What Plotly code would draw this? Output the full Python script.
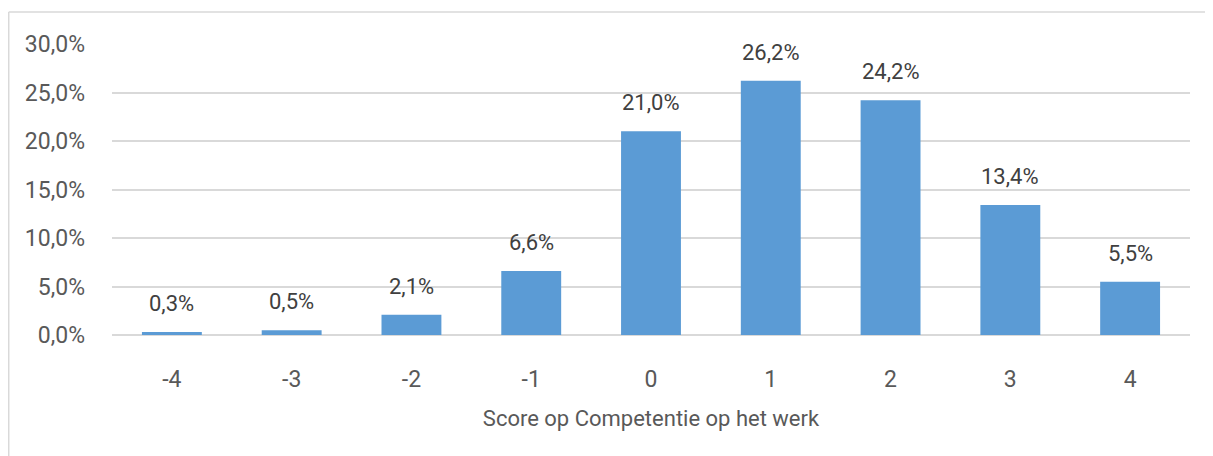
import plotly.graph_objects as go

# score categories and share of respondents (%)
scores = ["-4", "-3", "-2", "-1", "0", "1", "2", "3", "4"]
shares = [0.3, 0.5, 2.1, 6.6, 21.0, 26.2, 24.2, 13.4, 5.5]
tick_vals = [0, 5, 10, 15, 20, 25, 30]
tick_text = ["0,0%", "5,0%", "10,0%", "15,0%", "20,0%", "25,0%", "30,0%"]

labels = [f"{v:.1f}%".replace(".", ",") for v in shares]

fig = go.Figure(go.Bar(
    x=scores, y=shares,
    marker=dict(color="#5B9BD5", line=dict(width=0)),
    hoverinfo="x+y",
))

# value labels above bars, with a bit more room than textposition="outside"
# (category axis: annotations take the category index)
for i, (v, t) in enumerate(zip(shares, labels)):
    fig.add_annotation(x=i, y=v, text=t, showarrow=False, yanchor="bottom",
                       yshift=14, font=dict(size=22, color="#404040"))

# page body adds an 8px margin, so margins are trimmed by that amount
fig.update_layout(
    width=1205, height=448,
    margin=dict(l=104, r=23, t=36, b=121),
    plot_bgcolor="white", paper_bgcolor="white",
    font=dict(family="Roboto", size=23, color="#595959"),
    bargap=0.5,
    showlegend=False,
    xaxis=dict(
        type="category",
        title=dict(text="Score op Competentie op het werk", standoff=18,
                   font=dict(size=22, color="#595959")),
        showgrid=False, showline=False, ticks="", ticklabelstandoff=28,
    ),
    yaxis=dict(
        range=[0, 30], tickvals=tick_vals, ticktext=tick_text,
        showgrid=True, gridcolor="#D9D9D9", gridwidth=1.5,
        zeroline=True, zerolinecolor="#D9D9D9", zerolinewidth=1.5,
        ticks="", ticklabelstandoff=26,
    ),
    shapes=[
        # chart frame (left and top edges)
        dict(type="line", xref="paper", yref="paper",
             x0=-0.0958, x1=-0.0958, y0=-0.45, y1=1.11,
             line=dict(color="#D9D9D9", width=1.5)),
        dict(type="line", xref="paper", yref="paper",
             x0=-0.0958, x1=1.03, y0=1.11, y1=1.11,
             line=dict(color="#D9D9D9", width=1.5)),
    ],
)

fig.write_html("out.html")
